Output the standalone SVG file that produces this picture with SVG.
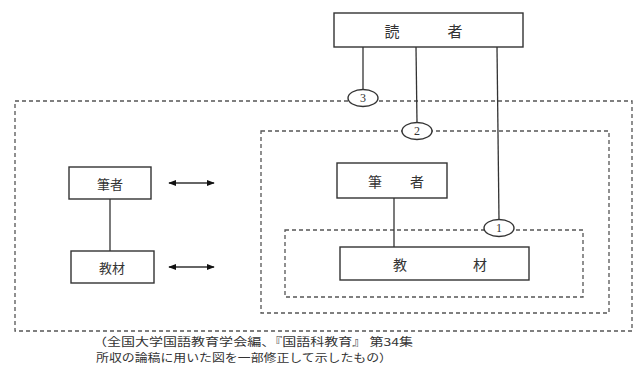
<svg xmlns="http://www.w3.org/2000/svg" width="634" height="365" viewBox="0 0 634 365">
<style>
.box{fill:#fff;stroke:#333;stroke-width:1.4}
.dash{fill:none;stroke:#555;stroke-width:1.3;stroke-dasharray:4 3}
.ln{stroke:#333;stroke-width:1.3;fill:none}
.circ{fill:#fff;stroke:#333;stroke-width:1.4}
.t{font-family:"Noto Sans CJK JP","Liberation Serif",serif;fill:#333;text-anchor:middle;dominant-baseline:central}
.num{font-family:"Liberation Serif",serif;font-size:12px;fill:#333;text-anchor:middle;dominant-baseline:central}
.cap{font-family:"Noto Sans CJK JP",serif;font-size:11px;fill:#333}
</style>
<defs>
<marker id="ah" viewBox="0 0 10 10" refX="9" refY="5" markerWidth="8" markerHeight="8" orient="auto-start-reverse" markerUnits="userSpaceOnUse">
<path d="M0,1 L10,5 L0,9 Z" fill="#111"/>
</marker>
</defs>
<g id="frames">
<rect class="dash" x="15" y="101" width="617" height="230"/>
<rect class="dash" x="261" y="131" width="348" height="182"/>
<rect class="dash" x="285" y="230" width="298" height="67"/>
</g>
<g id="connectors">
<line class="ln" x1="363" y1="47" x2="363" y2="90"/>
<line class="ln" x1="416" y1="47" x2="417" y2="123"/>
<line class="ln" x1="497" y1="47" x2="499" y2="220"/>
<line class="ln" x1="394" y1="198" x2="394" y2="247"/>
<line class="ln" x1="110" y1="199" x2="110" y2="251"/>
<line class="ln" x1="169" y1="183" x2="214" y2="183" stroke-width="2" marker-start="url(#ah)" marker-end="url(#ah)"/>
<line class="ln" x1="169" y1="267" x2="214" y2="267" stroke-width="2" marker-start="url(#ah)" marker-end="url(#ah)"/>
</g>
<g id="reader">
<rect class="box" x="334" y="13" width="189" height="34"/>
<text class="t" x="392" y="30" font-size="15">読</text>
<text class="t" x="455" y="30" font-size="15">者</text>
</g>
<g id="c3"><ellipse class="circ" cx="363" cy="98" rx="15" ry="8.5"/><text class="num" x="363" y="98">3</text></g>
<g id="c2"><ellipse class="circ" cx="417" cy="131" rx="15" ry="8.5"/><text class="num" x="417" y="131">2</text></g>
<g id="c1"><ellipse class="circ" cx="499" cy="228" rx="15" ry="8.5"/><text class="num" x="499" y="228">1</text></g>
<g id="writer-left">
<rect class="box" x="69" y="167" width="82" height="32"/>
<text class="t" x="110" y="183" font-size="13">筆者</text>
</g>
<g id="material-left">
<rect class="box" x="71" y="251" width="83" height="32"/>
<text class="t" x="112" y="267" font-size="13">教材</text>
</g>
<g id="writer-right">
<rect class="box" x="337" y="163" width="110" height="35"/>
<text class="t" x="375" y="181" font-size="14">筆</text>
<text class="t" x="417" y="181" font-size="14">者</text>
</g>
<g id="material-right">
<rect class="box" x="340" y="247" width="189" height="33"/>
<text class="t" x="400" y="264" font-size="14">教</text>
<text class="t" x="480" y="264" font-size="14">材</text>
</g>
<g id="caption">
<text class="cap" x="93" y="345.5" textLength="320" lengthAdjust="spacingAndGlyphs">（全国大学国語教育学会編、『国語科教育』 第34集</text>
<text class="cap" x="96" y="361.5" textLength="296" lengthAdjust="spacingAndGlyphs">所収の論稿に用いた図を一部修正して示したもの）</text>
</g>
</svg>
